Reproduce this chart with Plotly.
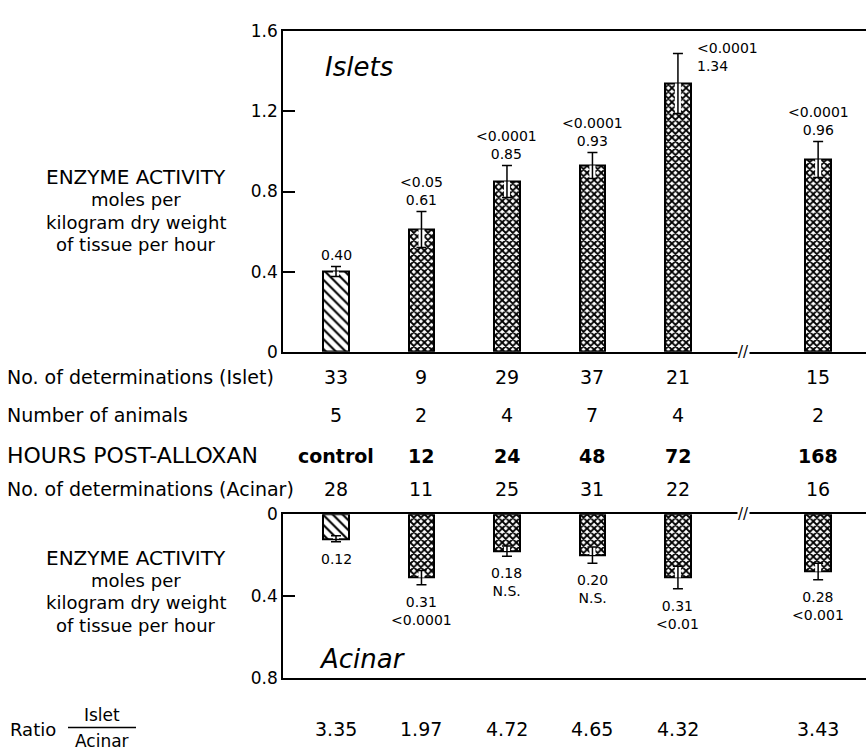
import plotly.graph_objects as go

# ---------------- data ----------------
hours = ["control", "12", "24", "48", "72", "168"]
islet_mean = [0.40, 0.61, 0.85, 0.93, 1.34, 0.96]
islet_sem = [0.025, 0.09, 0.08, 0.065, 0.15, 0.09]
islet_p = ["", "<0.05", "<0.0001", "<0.0001", "<0.0001", "<0.0001"]
acinar_mean = [0.12, 0.31, 0.18, 0.20, 0.31, 0.28]
acinar_sem = [0.015, 0.035, 0.025, 0.04, 0.055, 0.04]
acinar_p = ["", "<0.0001", "N.S.", "N.S.", "<0.01", "<0.001"]
n_islet = ["33", "9", "29", "37", "21", "15"]
n_animals = ["5", "2", "4", "7", "4", "2"]
n_acinar = ["28", "11", "25", "31", "22", "16"]
ratio = ["3.35", "1.97", "4.72", "4.65", "4.32", "3.43"]

# ---------------- layout helpers ----------------
W, H = 866, 753
FONT = "DejaVu Sans"
def py(p):
    return 1 - p / H
def px(p):
    return p / W

EXTRA_GAP = 0.64          # axis break between 72 and 168 h
brk_idx = hours.index("72")
pos = [i + (EXTRA_GAP if i > brk_idx else 0) for i in range(len(hours))]
brk_x = pos[brk_idx] + 0.47 * (pos[brk_idx + 1] - pos[brk_idx])
XR = [-0.62, 6.2]
BW = 0.30

shapes_pat = ["\\" if h == "control" else "x" for h in hours]
psize = [7 if h == "control" else 5 for h in hours]
psol = [0.3 if h == "control" else 0.6 for h in hours]

fig = go.Figure()

def add_panel(vals, errs, xa, ya):
    fig.add_trace(go.Bar(
        x=pos, y=vals, width=BW, xaxis=xa, yaxis=ya,
        marker=dict(color="white", line=dict(color="black", width=2),
                    pattern=dict(shape=shapes_pat, fgcolor="black", bgcolor="white",
                                 size=psize, solidity=psol, fillmode="replace")),
        showlegend=False, hoverinfo="skip"))
    # white halo for the part of the error bar inside the bar
    fig.add_trace(go.Scatter(
        x=pos, y=vals, mode="markers", xaxis=xa, yaxis=ya,
        marker=dict(size=1, color="rgba(0,0,0,0)"),
        error_y=dict(type="data", symmetric=False, array=[0] * len(vals),
                     arrayminus=errs, color="white", thickness=6, width=0),
        showlegend=False, hoverinfo="skip"))
    fig.add_trace(go.Scatter(
        x=pos, y=vals, mode="markers", xaxis=xa, yaxis=ya,
        marker=dict(size=1, color="rgba(0,0,0,0)"),
        error_y=dict(type="data", symmetric=True, array=errs,
                     color="black", thickness=1.5, width=5),
        showlegend=False, hoverinfo="skip"))

add_panel(islet_mean, islet_sem, "x", "y")
add_panel(acinar_mean, acinar_sem, "x2", "y2")

ann = []
TOPMAX = 1.6
# labels above islet bars
for x, v, e, p in zip(pos, islet_mean, islet_sem, islet_p):
    txt = f"{p}<br>{v:.2f}" if p else f"{v:.2f}"
    if v + e + 0.17 > TOPMAX:
        ann.append(dict(x=x + 0.2, y=v + e - 0.02, xref="x", yref="y", text=txt,
                        showarrow=False, xanchor="left", yanchor="middle",
                        font=dict(size=14), align="left"))
    else:
        ann.append(dict(x=x, y=v + e, xref="x", yref="y", text=txt,
                        showarrow=False, xanchor="center", yanchor="bottom",
                        yshift=2, font=dict(size=14)))
# labels below acinar bars
for x, v, e, p in zip(pos, acinar_mean, acinar_sem, acinar_p):
    txt = f"{v:.2f}<br>{p}" if p else f"{v:.2f}"
    ann.append(dict(x=x, y=v + e, xref="x2", yref="y2", text=txt,
                    showarrow=False, xanchor="center", yanchor="top",
                    yshift=-7, font=dict(size=14)))

# row tables
rows = [
    ("No. of determinations (Islet)", n_islet, 377, 19, 19, False),
    ("Number of animals", n_animals, 416, 19, 19, False),
    ("HOURS POST-ALLOXAN", hours, 458, 22, 19, True),
    ("No. of determinations (Acinar)", n_acinar, 492, 19, 19, False),
]
for label, vals, ypx, lsize, vsize, bold in rows:
    ann.append(dict(x=px(5), y=py(ypx), xref="paper", yref="paper", text=label,
                    showarrow=False, xanchor="left", yanchor="middle",
                    font=dict(size=lsize)))
    for x, t in zip(pos, vals):
        ann.append(dict(x=x, y=py(ypx), xref="x", yref="paper",
                        text=f"<b>{t}</b>" if bold else t,
                        showarrow=False, xanchor="center", yanchor="middle",
                        font=dict(size=vsize)))

# ratio row
RY = 739
ann.append(dict(x=px(8), y=py(RY), xref="paper", yref="paper", text="Ratio",
                showarrow=False, xanchor="left", yanchor="middle", font=dict(size=18)))
ann.append(dict(x=px(102), y=py(RY - 15), xref="paper", yref="paper", text="Islet",
                showarrow=False, xanchor="center", yanchor="middle", font=dict(size=17)))
ann.append(dict(x=px(102), y=py(RY + 12), xref="paper", yref="paper", text="Acinar",
                showarrow=False, xanchor="center", yanchor="middle", font=dict(size=17)))
for x, t in zip(pos, ratio):
    ann.append(dict(x=x, y=py(RY), xref="x", yref="paper", text=t,
                    showarrow=False, xanchor="center", yanchor="middle", font=dict(size=19)))

# left axis titles
for ys in ([172, 195, 218, 241], [563, 586, 609, 632]):
    lines = ["ENZYME ACTIVITY", "moles per", "kilogram dry weight", "of tissue per hour"]
    for i, (t, y) in enumerate(zip(lines, ys)):
        ann.append(dict(x=px(136), y=py(y), xref="paper", yref="paper", text=t,
                        showarrow=False, xanchor="center", yanchor="middle",
                        font=dict(size=20 if i == 0 else 18)))

# panel names
ann.append(dict(x=pos[0] - 0.15, y=1.42, xref="x", yref="y", text="<i>Islets</i>",
                showarrow=False, xanchor="left", yanchor="middle", font=dict(size=26)))
ann.append(dict(x=pos[0] - 0.22, y=0.71, xref="x2", yref="y2", text="<i>Acinar</i>",
                showarrow=False, xanchor="left", yanchor="middle", font=dict(size=26)))

# axis breaks
for xr, yr in (("x", "y"), ("x2", "y2")):
    ann.append(dict(x=brk_x, y=0, xref=xr, yref=yr, text="//", showarrow=False,
                    bgcolor="white", font=dict(size=15), borderpad=0,
                    xanchor="center", yanchor="middle"))

shapes = [dict(type="line", xref="paper", yref="paper", x0=px(68), x1=px(136),
               y0=py(RY - 2), y1=py(RY - 2), line=dict(color="black", width=1.5))]

axis_common = dict(showline=True, linecolor="black", linewidth=1.5, zeroline=False,
                   showgrid=False)
fig.update_layout(
    width=W, height=H, margin=dict(l=0, r=0, t=0, b=0),
    paper_bgcolor="white", plot_bgcolor="white",
    font=dict(family=FONT, color="black"),
    bargap=0, showlegend=False,
    xaxis=dict(domain=[px(283), 1], range=XR, showticklabels=False, ticks="",
               mirror=True, anchor="y", **axis_common),
    yaxis=dict(domain=[py(351), py(22)], range=[0, 1.6],
               tickvals=[0, 0.4, 0.8, 1.2, 1.6], ticktext=["0", "0.4", "0.8", "1.2", "1.6"],
               ticks="inside", ticklen=12, tickwidth=1.5, tickcolor="black",
               tickfont=dict(size=17), anchor="x", **axis_common),
    xaxis2=dict(domain=[px(283), 1], range=XR, showticklabels=False, ticks="",
                mirror=True, anchor="y2", matches="x", **axis_common),
    yaxis2=dict(domain=[py(686), py(518)], range=[0.8, 0],
                tickvals=[0, 0.4, 0.8], ticktext=["0", "0.4", "0.8"],
                ticks="inside", ticklen=12, tickwidth=1.5, tickcolor="black",
                tickfont=dict(size=17), anchor="x2", **axis_common),
    annotations=ann, shapes=shapes,
)

fig.write_html("out.html", config={"displayModeBar": False})
